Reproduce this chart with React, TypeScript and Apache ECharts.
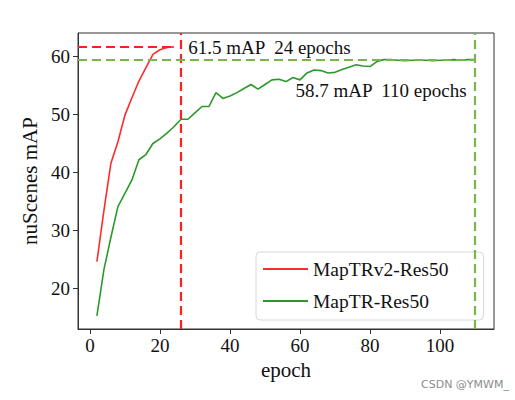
import React, { useEffect, useRef } from "react";
import * as echarts from "echarts";

const redEpochs = [2, 4, 6, 8, 10, 12, 14, 16, 18, 20, 22, 24];
const redMap = [24.6, 33.4, 41.6, 45.3, 49.9, 52.9, 55.8, 58.1, 60.4, 61.2, 61.6, 61.7];

const greenEpochs = [
  2, 4, 6, 8, 10, 12, 14, 16, 18, 20, 22, 24, 26, 28, 30, 32, 34, 36, 38, 40,
  42, 44, 46, 48, 50, 52, 54, 56, 58, 60, 62, 64, 66, 68, 70, 72, 74, 76, 78, 80,
  82, 84, 86, 88, 90, 92, 94, 96, 98, 100, 102, 104, 106, 108, 110,
];
const greenMap = [
  15.2, 23.2, 28.8, 34.1, 36.4, 38.7, 42.2, 43.1, 45.0, 45.8, 46.8, 47.9, 49.2, 49.2, 50.3, 51.4, 51.4, 53.8, 52.8, 53.2,
  53.8, 54.5, 55.2, 54.4, 55.2, 56.0, 56.1, 55.7, 56.4, 56.0, 57.2, 57.7, 57.6, 57.2, 57.3, 57.8, 58.2, 58.6, 58.4, 58.3,
  59.2, 59.5, 59.5, 59.4, 59.3, 59.4, 59.4, 59.4, 59.3, 59.4, 59.4, 59.5, 59.4, 59.5, 59.5,
];

const xTicks = [0, 20, 40, 60, 80, 100];
const yTicks = [20, 30, 40, 50, 60];
const xRange = [-3.4, 115.4];
const yRange = [12.95, 64.1];

const redName = "MapTRv2-Res50";
const greenName = "MapTR-Res50";
const redBest = 61.7;
const redHLineEnd = 24.5;
const redStop = 26;
const greenBest = 59.5;
const greenStop = 110;
const redNote = "61.5 mAP  24 epochs";
const redNotePos = [28.1, 61.6];
const greenNote = "58.7 mAP  110 epochs";
const greenNotePos = [58.7, 54.1];

const SERIF = "'Liberation Serif', 'Times New Roman', serif";

export default function App() {
  const ref = useRef<HTMLDivElement>(null);
  useEffect(() => {
    if (!ref.current) return;
    const chart = echarts.init(ref.current, null, { renderer: "svg" });
    const red = "#ff2b2b";
    const green = "#2a9a2a";
    const redDash = "#ff1f1f";
    const greenDash = "#78b64c";
    const axisColor = "#333";
    const noteLabel = (text: string) => ({
      show: true,
      formatter: text,
      position: [0, 0],
      align: "left",
      verticalAlign: "middle",
      fontFamily: SERIF,
      fontSize: 19,
      color: "#111",
    });
    chart.setOption({
      animation: false,
      backgroundColor: "#fff",
      grid: {
        left: 78,
        top: 33,
        right: 21,
        bottom: 71,
        show: true,
        borderColor: axisColor,
        borderWidth: 1,
        containLabel: false,
        outerBoundsMode: "none",
      },
      legend: {
        data: [
          { name: redName, icon: "rect" },
          { name: greenName, icon: "rect" },
        ],
        orient: "vertical",
        left: 256,
        top: 252,
        itemWidth: 45,
        itemHeight: 1.8,
        itemGap: 12,
        padding: [7, 35, 9, 7],
        borderColor: "#d8d8d8",
        borderWidth: 1,
        borderRadius: 4,
        backgroundColor: "rgba(255,255,255,0.8)",
        textStyle: { fontFamily: SERIF, fontSize: 19.5, color: "#111" },
      },
      xAxis: {
        type: "value",
        min: xRange[0],
        max: xRange[1],
        name: "epoch",
        nameLocation: "middle",
        nameGap: 29,
        nameTextStyle: { fontFamily: SERIF, fontSize: 21, color: "#111" },
        axisLine: { show: true, onZero: false, lineStyle: { color: axisColor, width: 1 } },
        axisTick: { show: true, length: 5, lineStyle: { color: axisColor }, customValues: xTicks },
        axisLabel: { customValues: xTicks, margin: 7, fontFamily: SERIF, fontSize: 19, color: "#111" },
        splitLine: { show: false },
      },
      yAxis: {
        type: "value",
        min: yRange[0],
        max: yRange[1],
        name: "nuScenes mAP",
        nameLocation: "middle",
        nameGap: 30,
        nameTextStyle: { fontFamily: SERIF, fontSize: 21, color: "#111" },
        axisLine: { show: true, onZero: false, lineStyle: { color: axisColor, width: 1 } },
        axisTick: { show: true, length: 5, lineStyle: { color: axisColor }, customValues: yTicks },
        axisLabel: { customValues: yTicks, margin: 8, fontFamily: SERIF, fontSize: 19, color: "#111" },
        splitLine: { show: false },
      },
      series: [
        {
          name: redName,
          type: "line",
          color: red,
          symbol: "none",
          lineStyle: { color: red, width: 1.6 },
          data: redEpochs.map((e, i) => [e, redMap[i]]),
          z: 3,
          markLine: {
            silent: true,
            symbol: ["none", "none"],
            label: { show: false },
            lineStyle: { color: redDash, type: [9, 5], width: 2.2 },
            data: [
              [{ coord: [xRange[0], redBest] }, { coord: [redHLineEnd, redBest] }],
              { xAxis: redStop },
            ],
          },
          markPoint: {
            silent: true,
            symbol: "circle",
            symbolSize: 0,
            data: [{ coord: redNotePos, label: noteLabel(redNote) }],
          },
        },
        {
          name: greenName,
          type: "line",
          color: green,
          symbol: "none",
          lineStyle: { color: green, width: 1.6 },
          data: greenEpochs.map((e, i) => [e, greenMap[i]]),
          z: 2,
          markLine: {
            silent: true,
            symbol: ["none", "none"],
            label: { show: false },
            lineStyle: { color: greenDash, type: [9, 5], width: 2.2 },
            data: [
              [{ coord: [xRange[0], greenBest] }, { coord: [greenStop, greenBest] }],
              { xAxis: greenStop },
            ],
          },
          markPoint: {
            silent: true,
            symbol: "circle",
            symbolSize: 0,
            data: [{ coord: greenNotePos, label: noteLabel(greenNote) }],
          },
        },
      ],
      graphic: [
        {
          type: "text",
          left: 421,
          top: 379,
          style: {
            text: "CSDN @YMWM_",
            fontFamily: "'DejaVu Sans', sans-serif",
            fontSize: 11,
            fill: "#8c8c8c",
          },
        },
      ],
    });
    return () => chart.dispose();
  }, []);
  return (
    <div
      ref={ref}
      style={{ position: "absolute", left: 0, top: 0, width: 515, height: 400 }}
    />
  );
}
